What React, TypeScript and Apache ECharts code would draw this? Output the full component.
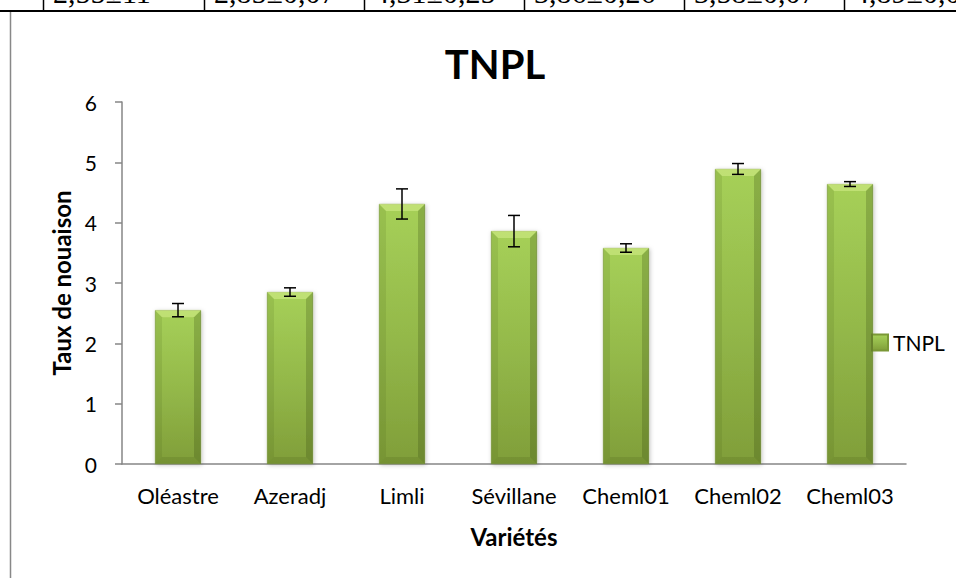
import React, { useEffect, useRef } from "react";
import * as echarts from "echarts";

const categories = ["Oléastre", "Azeradj", "Limli", "Sévillane", "Cheml01", "Cheml02", "Cheml03"];
const values = [2.55, 2.85, 4.31, 3.86, 3.58, 4.89, 4.64];
const errors = [0.11, 0.07, 0.25, 0.26, 0.07, 0.09, 0.04];
const tableCells = ["2,55±11", "2,85±0,07", "4,31±0,25", "3,86±0,26", "3,58±0,07", "4,89±0,09"];
const yTicks = { min: 0, max: 6, interval: 1 };

const FONT = "Lato, 'Noto Sans', sans-serif";
const BAR_W = 46;

export default function App() {
  const ref = useRef<HTMLDivElement>(null);
  useEffect(() => {
    if (!ref.current) return;
    const chart = echarts.init(ref.current, undefined, { renderer: "svg" });
    const cellXs = [43, 204, 364, 524, 684, 844];
    const graphic: any[] = [
      ...tableCells.map((t, i) => ({
        type: "text",
        x: cellXs[i] + 10,
        y: 7,
        z: 1,
        style: { text: t, font: "30px 'Liberation Serif', serif", fill: "#000", textVerticalAlign: "bottom" },
      })),
      { type: "rect", z: 2, shape: { x: 0, y: 11, width: 956, height: 30 }, style: { fill: "#fff" } },
      { type: "line", z: 3, shape: { x1: 0, y1: 11, x2: 956, y2: 11 }, style: { stroke: "#000", lineWidth: 2 } },
      { type: "line", z: 3, shape: { x1: 10.5, y1: 12, x2: 10.5, y2: 578 }, style: { stroke: "#888", lineWidth: 1.5 } },
      ...cellXs.map((x) => ({
        type: "line",
        z: 3,
        shape: { x1: x + 0.5, y1: 0, x2: x + 0.5, y2: 11 },
        style: { stroke: "#000", lineWidth: 1.5 },
      })),
    ];
    chart.setOption({
      animation: false,
      backgroundColor: "#fff",
      title: {
        text: "TNPL",
        left: 490,
        top: 39,
        textAlign: "center",
        textStyle: { fontFamily: FONT, fontSize: 40, fontWeight: "bold", color: "#000" },
      },
      legend: {
        left: 866,
        top: 327,
        orient: "vertical",
        itemWidth: 16,
        itemHeight: 16,
        itemGap: 6,
        icon: "rect",
        data: ["TNPL"],
        textStyle: { fontFamily: FONT, fontSize: 21, color: "#000" },
      },
      grid: { left: 122, right: 50, top: 102, bottom: 114 },
      xAxis: {
        type: "category",
        data: categories,
        name: "Variétés",
        nameLocation: "middle",
        nameGap: 60,
        nameTextStyle: { fontFamily: FONT, fontSize: 24, fontWeight: "bold", color: "#000" },
        axisLine: { lineStyle: { color: "#868686", width: 1.5 } },
        axisTick: { show: false },
        axisLabel: { fontFamily: FONT, fontSize: 22, color: "#000", margin: 20, interval: 0 },
      },
      yAxis: {
        type: "value",
        min: yTicks.min,
        max: yTicks.max,
        interval: yTicks.interval,
        name: "Taux de nouaison",
        nameLocation: "middle",
        nameGap: 47,
        nameTextStyle: { fontFamily: FONT, fontSize: 24, fontWeight: "bold", color: "#000" },
        axisLine: { show: true, lineStyle: { color: "#868686", width: 1.5 } },
        axisTick: { show: true, length: 7, lineStyle: { color: "#868686", width: 1.5 } },
        splitLine: { show: false },
        axisLabel: { fontFamily: FONT, fontSize: 21, color: "#000", margin: 25 },
      },
      series: [
        {
          name: "TNPL",
          type: "bar",
          data: values,
          barWidth: BAR_W,
          itemStyle: {
            color: new echarts.graphic.LinearGradient(0, 0, 0, 1, [
              { offset: 0, color: "#a6d058" },
              { offset: 0.5, color: "#94b94a" },
              { offset: 1, color: "#809e39" },
            ]),
            borderColor: "#7a9836",
            borderWidth: 0.5,
            shadowColor: "rgba(0,0,0,0.25)",
            shadowBlur: 4,
            shadowOffsetX: 1,
            shadowOffsetY: 1,
          },
        },
        {
          name: "bevel",
          type: "custom",
          data: values.map((v, i) => [i, v]),
          z: 5,
          silent: true,
          renderItem: (params: any, api: any) => {
            const i = api.value(0);
            const v = api.value(1);
            const top = api.coord([i, v]);
            const bot = api.coord([i, 0]);
            const l = top[0] - BAR_W / 2;
            const r = top[0] + BAR_W / 2;
            const t = top[1];
            const b = bot[1];
            const d = 7;
            return {
              type: "group",
              children: [
                {
                  type: "polygon",
                  shape: { points: [[l, t], [r, t], [r - d, t + d], [l + d, t + d]] },
                  style: { fill: "rgba(225,245,150,0.45)" },
                },
                {
                  type: "polygon",
                  shape: { points: [[l, t], [l + d, t + d], [l + d, b - d], [l, b]] },
                  style: { fill: "rgba(60,80,20,0.12)" },
                },
                {
                  type: "polygon",
                  shape: { points: [[r, t], [r - d, t + d], [r - d, b - d], [r, b]] },
                  style: { fill: "rgba(40,60,10,0.22)" },
                },
                {
                  type: "polygon",
                  shape: { points: [[l, b], [l + d, b - d], [r - d, b - d], [r, b]] },
                  style: { fill: "rgba(40,60,10,0.12)" },
                },
              ],
            };
          },
        },
        {
          name: "err",
          type: "custom",
          data: values.map((v, i) => [i, v, errors[i]]),
          z: 10,
          silent: true,
          renderItem: (params: any, api: any) => {
            const i = api.value(0);
            const v = api.value(1);
            const e = api.value(2);
            const top = api.coord([i, v + e]);
            const bot = api.coord([i, v - e]);
            const hw = 6;
            const st = { stroke: "#000", lineWidth: 1.5 };
            return {
              type: "group",
              children: [
                { type: "line", shape: { x1: top[0], y1: top[1], x2: bot[0], y2: bot[1] }, style: st },
                { type: "line", shape: { x1: top[0] - hw, y1: top[1], x2: top[0] + hw, y2: top[1] }, style: st },
                { type: "line", shape: { x1: bot[0] - hw, y1: bot[1], x2: bot[0] + hw, y2: bot[1] }, style: st },
              ],
            };
          },
        },
      ],
      graphic,
    });
    return () => chart.dispose();
  }, []);
  return <div ref={ref} style={{ position: "fixed", left: 0, top: 0, width: 956, height: 578 }} />;
}
